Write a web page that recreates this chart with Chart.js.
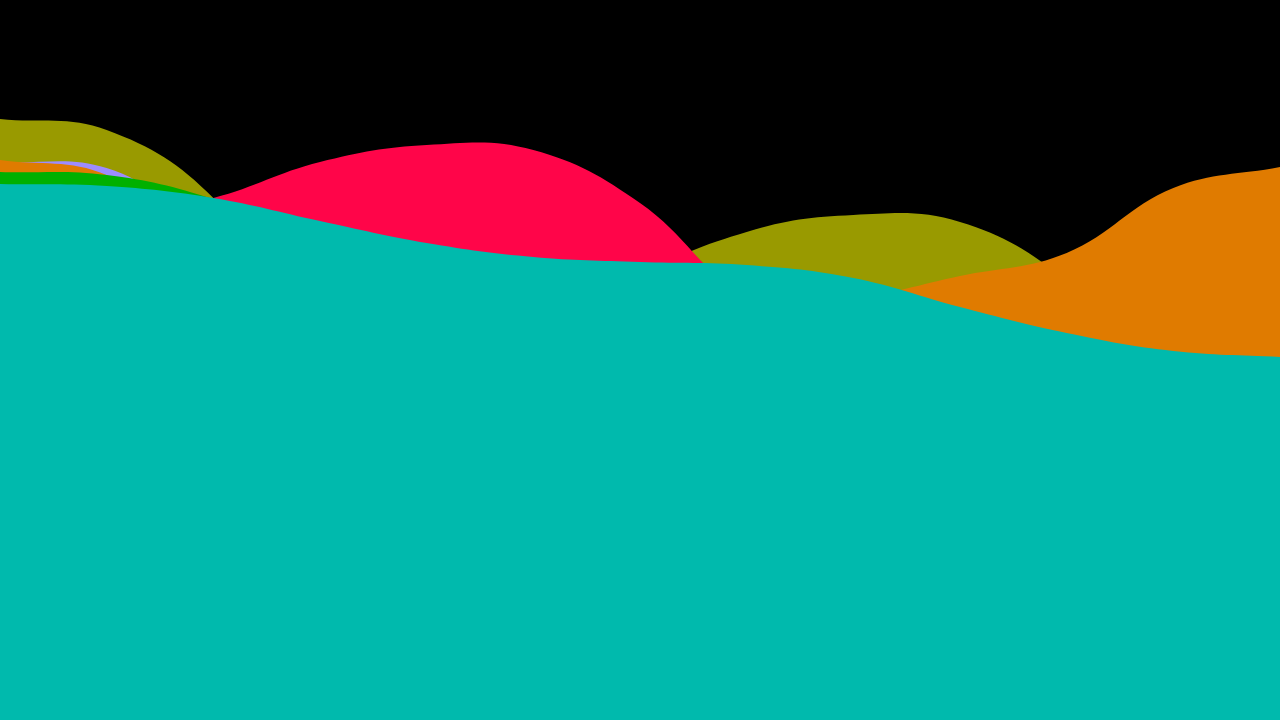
<!DOCTYPE html>
<html>
<head>
<meta charset="utf-8">
<script src="https://cdn.jsdelivr.net/npm/chart.js@4"></script>
<style>
  html, body { margin: 0; padding: 0; background: #000; }
  #wrap { width: 1280px; height: 720px; position: relative; }
</style>
</head>
<body>
<div id="wrap"><canvas id="chart"></canvas></div>
<script>
// categories along x (13 evenly spaced points)
const labels = ['1', '2', '3', '4', '5', '6', '7', '8', '9', '10', '11', '12', '13'];

// series values (height above the baseline, axis runs 0..720)
const tealValues   = [536, 534, 522, 499, 477, 463, 458, 455, 442, 413, 387, 369, 363];
const greenValues  = [548, 545, 521, 478, 450, 435, 430, 425, 410, 380, 360, 345, 340];
const orangeValues = [560, 545, 470, 455, 440, 430, 425, 420, 422, 444, 467, 532, 553];
const redValues    = [480, 503, 522, 558, 575, 570, 517, 422, 390, 360, 330, 320, 310];
const purpleValues = [558, 552, 492, 458, 435, 425, 420, 415, 405, 380, 360, 345, 340];
const oliveValues  = [601, 590, 522, 376, 320, 340, 440, 488, 505, 498, 440, 337, 300];

const yMin = 0;
const yMax = 720;

// first dataset is painted last (on top)
function area(label, values, color) {
    return {
        label: label,
        data: values,
        backgroundColor: color,
        borderColor: 'rgba(0,0,0,0)',
        borderWidth: 0,
        pointRadius: 0,
        pointHoverRadius: 0,
        tension: 0.4,
        fill: 'origin'
    };
}

new Chart(document.getElementById('chart'), {
    type: 'line',
    data: {
        labels: labels,
        datasets: [
            area('A', tealValues, '#00baad'),
            area('B', greenValues, '#00b000'),
            area('C', orangeValues, '#e07b00'),
            area('D', redValues, '#ff0549'),
            area('E', purpleValues, '#9d8cff'),
            area('F', oliveValues, '#999a00')
        ]
    },
    options: {
        responsive: true,
        maintainAspectRatio: false,
        animation: false,
        layout: { padding: 0 },
        plugins: {
            legend: { display: false },
            tooltip: { enabled: false }
        },
        scales: {
            x: { display: false, offset: false },
            y: { display: false, min: yMin, max: yMax }
        }
    }
});
</script>
</body>
</html>
